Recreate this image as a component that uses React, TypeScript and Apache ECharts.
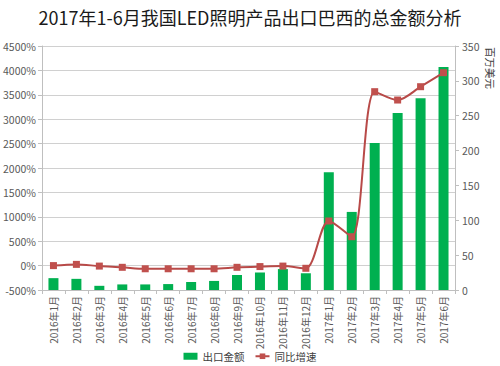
import React, { useEffect, useRef } from "react";
import * as echarts from "echarts";

const categories = [
  "2016年1月", "2016年2月", "2016年3月", "2016年4月", "2016年5月", "2016年6月",
  "2016年7月", "2016年8月", "2016年9月", "2016年10月", "2016年11月", "2016年12月",
  "2017年1月", "2017年2月", "2017年3月", "2017年4月", "2017年5月", "2017年6月",
];
const exportValues = [17, 16, 6, 8, 8, 8.5, 11.5, 13, 21.5, 25, 30, 24, 169, 112, 211, 254, 275, 320];
const growthValues = [0, 25, -10, -35, -65, -65, -65, -65, -35, -20, -10, -55, 914, 592, 3564, 3393, 3666, 3953];

const titleText = "2017年1-6月我国LED照明产品出口巴西的总金额分析";
const rightAxisName = "百万美元";
const barName = "出口金额";
const lineName = "同比增速";

const FONT = "'Noto Sans CJK SC', 'Noto Sans', sans-serif";

export default function App() {
  const ref = useRef<HTMLDivElement>(null);
  useEffect(() => {
    if (!ref.current) return;
    const chart = echarts.init(ref.current, null, { renderer: "svg" });
    const axisColor = "#bfbfbf";
    const labelColor = "#595959";
    chart.setOption({
      animation: false,
      backgroundColor: "#ffffff",
      textStyle: { fontFamily: FONT },
      title: {
        text: titleText,
        left: "center",
        top: 3,
        textStyle: { fontSize: 18, fontWeight: "normal", color: "#1a1a1a", fontFamily: FONT },
      },
      grid: { left: 40, right: 45, top: 46, bottom: 76 },
      legend: {
        left: "center",
        top: 346,
        itemWidth: 14,
        itemHeight: 7,
        itemGap: 10,
        textStyle: { fontSize: 10.5, color: "#404040", fontFamily: FONT },
        data: [{ name: barName, icon: "rect" }, { name: lineName }],
      },
      xAxis: {
        type: "category",
        data: categories,
        axisLine: { onZero: false, lineStyle: { color: axisColor } },
        axisTick: { show: true, length: 4, lineStyle: { color: axisColor } },
        axisLabel: { rotate: 90, interval: 0, fontSize: 10, color: labelColor, margin: 6, fontFamily: FONT },
      },
      yAxis: [
        {
          type: "value",
          min: -500,
          max: 4500,
          interval: 500,
          axisLine: { show: true, lineStyle: { color: axisColor } },
          axisTick: { show: true, length: 4, lineStyle: { color: axisColor } },
          axisLabel: {
            formatter: (v: number) => `${v}%`,
            fontSize: 10.5,
            color: labelColor,
            margin: 6,
            fontFamily: FONT,
          },
          splitLine: { show: true, lineStyle: { color: "#d0d0d0", width: 1 } },
        },
        {
          type: "value",
          min: 0,
          max: 350,
          interval: 50,
          position: "right",
          axisLine: { show: true, lineStyle: { color: axisColor } },
          axisTick: { show: true, length: 4, lineStyle: { color: axisColor } },
          axisLabel: { fontSize: 10.5, color: labelColor, margin: 7, fontFamily: FONT },
          splitLine: { show: false },
        },
      ],
      graphic: [
        {
          type: "text",
          x: 496,
          y: 47,
          rotation: -Math.PI / 2,
          style: {
            text: rightAxisName,
            fontSize: 10.5,
            fill: "#404040",
            fontFamily: FONT,
          },
        },
      ],
      series: [
        {
          name: barName,
          type: "bar",
          yAxisIndex: 1,
          data: exportValues,
          barWidth: 10,
          itemStyle: { color: "#00b050" },
        },
        {
          name: lineName,
          type: "line",
          yAxisIndex: 0,
          data: growthValues,
          smooth: 0.3,
          symbol: "rect",
          symbolSize: 7,
          lineStyle: { color: "#b84a48", width: 2 },
          itemStyle: { color: "#c0504d" },
        },
      ],
    });
    return () => chart.dispose();
  }, []);
  return <div ref={ref} style={{ width: 500, height: 366, position: "absolute", left: 0, top: 0 }} />;
}
